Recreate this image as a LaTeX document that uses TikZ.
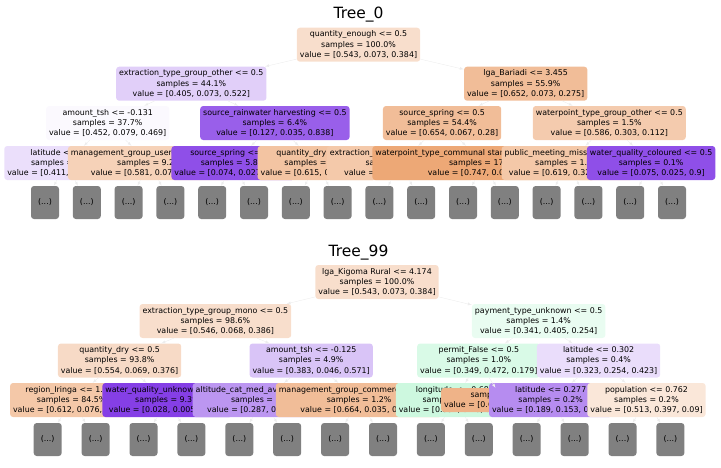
\documentclass[tikz,border=0pt]{standalone}
\usepackage{fontspec}
\setmainfont{DejaVu Sans}
\definecolor{c0}{RGB}{229,129,57}
\definecolor{c1}{RGB}{57,229,129}
\definecolor{c2}{RGB}{129,57,229}
\definecolor{moregray}{RGB}{128,128,128}
\begin{document}
\begin{tikzpicture}[x=1pt, y=-1pt, >=latex,
    split/.style={rounded corners=3pt, align=center, inner xsep=3pt, inner ysep=0pt, minimum height=34pt, font=\fontsize{7.9}{10.3}\selectfont},
    more/.style={split, fill=moregray, minimum width=28pt, minimum height=33pt},
    edge/.style={draw=gray!14, -latex},
    title/.style={font=\fontsize{15.5}{18}\selectfont}]
    \useasboundingbox (0, 0) rectangle (721, 467);
    % Tree_0
    \node[title, anchor=base] (T0) at (358.5, 18) {Tree\_0};
    \node[split, fill=c0!26] (A1) at (358.5, 44.7) {quantity\_enough <= 0.5\\samples = 100.0\%\\value = [0.543, 0.073, 0.384]};
    \node[split, fill=c2!24] (A2) at (191.3, 83.7) {extraction\_type\_group\_other <= 0.5\\samples = 44.1\%\\value = [0.405, 0.073, 0.522]};
    \node[split, fill=c0!52] (A3) at (525.7, 83.7) {lga\_Bariadi <= 3.455\\samples = 55.9\%\\value = [0.652, 0.073, 0.275]};
    \node[split, fill=c2!3] (A4) at (107.7, 123) {amount\_tsh <= -0.131\\samples = 37.7\%\\value = [0.452, 0.079, 0.469]};
    \node[split, fill=c2!81] (A5) at (274.9, 123) {source\_rainwater harvesting <= 0.5\\samples = 6.4\%\\value = [0.127, 0.035, 0.838]};
    \node[split, fill=c0!52] (A6) at (442.1, 123) {source\_spring <= 0.5\\samples = 54.4\%\\value = [0.654, 0.067, 0.28]};
    \node[split, fill=c0!41] (A7) at (609.3, 123) {waterpoint\_type\_group\_other <= 0.5\\samples = 1.5\%\\value = [0.586, 0.303, 0.112]};
    \node[split, fill=c2!16] (A8) at (65.9, 163) {latitude <= 0.612\\samples = 28.5\%\\value = [0.411, 0.082, 0.507]};
    \node[split, fill=c0!36] (A9) at (149.5, 163) {management\_group\_user-group <= 0.5\\samples = 9.2\%\\value = [0.581, 0.071, 0.348]};
    \node[split, fill=c2!89] (A10) at (233.1, 163) {source\_spring <= 0.5\\samples = 5.8\%\\value = [0.074, 0.027, 0.899]};
    \node[split, fill=c0!47] (A11) at (316.7, 163) {quantity\_dry <= 0.5\\samples = 0.6\%\\value = [0.615, 0.11, 0.275]};
    \node[split, fill=c0!43] (A12) at (400.3, 163) {extraction\_type\_class\_other <= 0.5\\samples = 37.3\%\\value = [0.611, 0.07, 0.319]};
    \node[split, fill=c0!69] (A13) at (483.9, 163) {waterpoint\_type\_communal standpipe multiple <= 0.5\\samples = 17.1\%\\value = [0.747, 0.06, 0.193]};
    \node[split, fill=c0!44] (A14) at (567.5, 163) {public\_meeting\_missing <= 0.5\\samples = 1.4\%\\value = [0.619, 0.323, 0.058]};
    \node[split, fill=c2!89] (A15) at (651.1, 163) {water\_quality\_coloured <= 0.5\\samples = 0.1\%\\value = [0.075, 0.025, 0.9]};
    \foreach \p/\c in {1/2, 1/3, 2/4, 2/5, 3/6, 3/7, 4/8, 4/9, 5/10, 5/11, 6/12, 6/13, 7/14, 7/15}
        \draw[edge] (A\p) -- (A\c);
    \foreach \k in {0,...,15}{
        \pgfmathtruncatemacro{\p}{8+\k/2}
        \node[more] (Ae\k) at ({45+41.8*\k}, 202.5) {(...)};
        \draw[edge] (A\p) -- (Ae\k);
    }
    % Tree_99
    \node[title, anchor=base] (T99) at (358.5, 256) {Tree\_99};
    \node[split, fill=c0!26] (B1) at (377, 282) {lga\_Kigoma Rural <= 4.174\\samples = 100.0\%\\value = [0.543, 0.073, 0.384]};
    \node[split, fill=c0!26] (B2) at (215.4, 321) {extraction\_type\_group\_mono <= 0.5\\samples = 98.6\%\\value = [0.546, 0.068, 0.386]};
    \node[split, fill=c1!11] (B3) at (538.7, 321) {payment\_type\_unknown <= 0.5\\samples = 1.4\%\\value = [0.341, 0.405, 0.254]};
    \node[split, fill=c0!29] (B4) at (119.6, 360.5) {quantity\_dry <= 0.5\\samples = 93.8\%\\value = [0.554, 0.069, 0.376]};
    \node[split, fill=c2!30] (B5) at (311.2, 360.5) {amount\_tsh <= -0.125\\samples = 4.9\%\\value = [0.383, 0.046, 0.571]};
    \node[split, fill=c1!19] (B6) at (478.8, 360.5) {permit\_False <= 0.5\\samples = 1.0\%\\value = [0.349, 0.472, 0.179]};
    \node[split, fill=c2!17] (B7) at (598.6, 360.5) {latitude <= 0.302\\samples = 0.4\%\\value = [0.323, 0.254, 0.423]};
    \node[split, fill=c0!44] (B8) at (71.7, 400) {region\_Iringa <= 1.717\\samples = 84.5\%\\value = [0.612, 0.076, 0.312]};
    \node[split, fill=c2!97] (B9) at (167.5, 400) {water\_quality\_unknown <= 0.5\\samples = 9.3\%\\value = [0.028, 0.005, 0.967]};
    \node[split, fill=c2!53] (B10) at (263.3, 400) {altitude\_cat\_med\_average <= 0.5\\samples = 3.7\%\\value = [0.287, 0.05, 0.663]};
    \node[split, fill=c0!52] (B11) at (359.1, 400) {management\_group\_commercial <= 0.5\\samples = 1.2\%\\value = [0.664, 0.035, 0.301]};
    \node[split, fill=c1!25] (B12) at (454.9, 400) {longitude <= 0.681\\samples = 0.8\%\\value = [0.334, 0.48, 0.186]};
    \node[split, fill=c0!60, minimum height=24pt] (B13) at (502.8, 400) {samples = 0.2\%\\value = [0.667, 0.167, 0.167]};
    \node[split, fill=c2!58] (B14) at (550.7, 400) {latitude <= 0.277\\samples = 0.2\%\\value = [0.189, 0.153, 0.658]};
    \node[split, fill=c0!19] (B15) at (646.5, 400) {population <= 0.762\\samples = 0.2\%\\value = [0.513, 0.397, 0.09]};
    \foreach \p/\c in {1/2, 1/3, 2/4, 2/5, 3/6, 3/7, 4/8, 4/9, 5/10, 5/11, 6/12, 6/13, 7/14, 7/15}
        \draw[edge] (B\p) -- (B\c);
    \foreach \k/\p in {0/8, 1/8, 2/9, 3/9, 4/10, 5/10, 6/11, 7/11, 8/12, 9/12, 10/14, 11/14, 12/15, 13/15}{
        \node[more] (Be\k) at ({47.7+47.9*\k}, 439.5) {(...)};
        \draw[edge] (B\p) -- (Be\k);
    }
\end{tikzpicture}
\end{document}
